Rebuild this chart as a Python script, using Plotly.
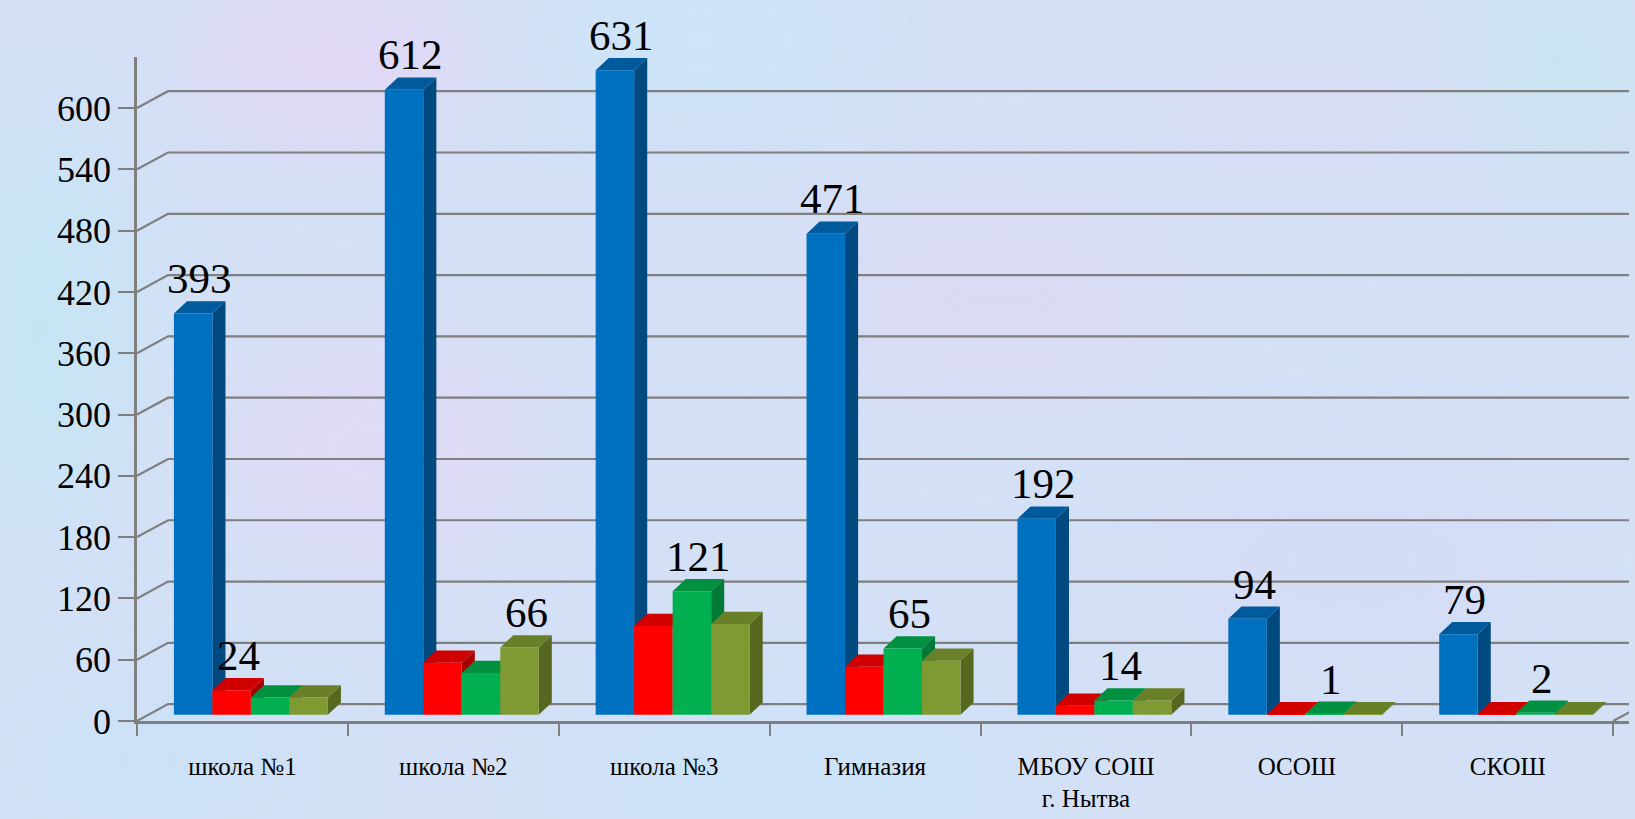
import base64
import plotly.graph_objects as go

categories = ["школа №1", "школа №2", "школа №3", "Гимназия", "МБОУ СОШ<br>г. Нытва", "ОСОШ", "СКОШ"]
blue_vals = [393, 612, 631, 471, 192, 94, 79]
red_vals = [24, 51, 87, 47, 9, 0.5, 0.5]
green_vals = [17, 41, 121, 65, 14, 1, 2]
olive_vals = [17, 66, 89, 53, 14, 0.5, 0.5]

blue_text = [str(v) for v in blue_vals]
red_text = ["24", "", "", "", "", "", ""]
green_text = ["", "", "121", "65", "14", "1", "2"]
olive_text = ["", "66", "", "", "", "", ""]

tick_vals = [0, 60, 120, 180, 240, 300, 360, 420, 480, 540, 600]

# (values, labels, front colour, side colour, top colour)
series = [
    (blue_vals, blue_text, "#0070c0", "#004a80", "#005a9c"),
    (red_vals, red_text, "#ff0000", "#a80000", "#d00000"),
    (green_vals, green_text, "#00b050", "#007a36", "#009040"),
    (olive_vals, olive_text, "#7f9a33", "#56681f", "#6a8028"),
]

BARGAP = 0.27
N = len(series)
group_w = 1 - BARGAP
bar_w = group_w / N
DX, DY = 0.062, 12
GDX, GDY = 0.147, 16.5
BX, BASE = 0.04, 6

# soft mottled backdrop (decorative)
bg_svg = """<svg xmlns='http://www.w3.org/2000/svg' width='1635' height='819' viewBox='0 0 1635 819'>
<defs><filter id='b' x='-50%' y='-50%' width='200%' height='200%'><feGaussianBlur stdDeviation='45'/></filter></defs>
<rect width='1635' height='819' fill='#d3e0f6'/>
<g filter='url(#b)' opacity='0.75'>
<ellipse cx='330' cy='60' rx='140' ry='90' fill='#e6d6f6'/>
<ellipse cx='700' cy='40' rx='150' ry='60' fill='#c9e7fa'/>
<ellipse cx='40' cy='330' rx='90' ry='200' fill='#c3e6f4'/>
<ellipse cx='380' cy='450' rx='160' ry='120' fill='#e2d9f6'/>
<ellipse cx='1000' cy='300' rx='200' ry='120' fill='#dcdaf4'/>
<ellipse cx='1300' cy='120' rx='180' ry='90' fill='#d8dcf4'/>
<ellipse cx='1560' cy='60' rx='90' ry='90' fill='#c6e6ef'/>
<ellipse cx='800' cy='780' rx='220' ry='60' fill='#c8e4fa'/>
<ellipse cx='1350' cy='560' rx='200' ry='110' fill='#d6dcf6'/>
<ellipse cx='150' cy='760' rx='150' ry='70' fill='#c9e2f7'/>
</g></svg>"""
bg_uri = "data:image/svg+xml;base64," + base64.b64encode(bg_svg.encode("utf-8")).decode("ascii")

fig = go.Figure()
shapes = []
annotations = []

n_cat = len(categories)
for v in tick_vals:
    shapes.append(dict(
        type="path", xref="x", yref="y", layer="below",
        path=f"M -0.5 {v} L {-0.5 + GDX} {v + GDY} L {n_cat - 0.5 + GDX} {v + GDY}",
        line=dict(color="#7f7f7f", width=2.2),
    ))
shapes.append(dict(
    type="path", xref="x", yref="y", layer="below",
    path=f"M {n_cat - 0.5} 0 L {n_cat - 0.5 + GDX} {GDY}",
    line=dict(color="#7f7f7f", width=2.2),
))

for si, (vals, txt, col, side, top) in enumerate(series):
    off = -group_w / 2 + bar_w * si + BX
    fig.add_trace(go.Bar(
        x=categories, y=vals, base=BASE, offset=off, width=bar_w,
        marker=dict(color=col, line=dict(width=0)),
        hoverinfo="skip",
    ))
    for ci, v in enumerate(vals):
        x0 = ci + off
        x1 = x0 + bar_w
        b = BASE
        t = BASE + v
        shapes.append(dict(
            type="path", xref="x", yref="y", layer="between",
            path=f"M {x1} {b} L {x1 + DX} {b + DY} L {x1 + DX} {t + DY} L {x1} {t} Z",
            fillcolor=side, line=dict(width=0),
        ))
        shapes.append(dict(
            type="path", xref="x", yref="y", layer="between",
            path=f"M {x0} {t} L {x0 + DX} {t + DY} L {x1 + DX} {t + DY} L {x1} {t} Z",
            fillcolor=top, line=dict(width=0),
        ))
        if txt[ci]:
            annotations.append(dict(
                x=(x0 + x1) / 2 + DX / 2, y=t + DY, xref="x", yref="y",
                text=txt[ci], showarrow=False, yanchor="bottom", xanchor="center",
                yshift=-3,
                font=dict(family="Liberation Serif", size=43, color="#000000"),
            ))

fig.update_layout(
    width=1635, height=819,
    barmode="group", bargap=BARGAP, bargroupgap=0,
    showlegend=False,
    paper_bgcolor="#d3e0f6", plot_bgcolor="rgba(0,0,0,0)",
    margin=dict(l=137, r=6, t=57, b=98),
    font=dict(family="Liberation Serif", color="#000000"),
    shapes=shapes, annotations=annotations,
    images=[dict(source=bg_uri, xref="paper", yref="paper", x=-137 / 1492, y=1 + 57 / 664,
                 sizex=1635 / 1492, sizey=819 / 664, xanchor="left", yanchor="top",
                 sizing="stretch", layer="below")],
)
fig.update_xaxes(
    type="category", tickson="boundaries", ticks="outside", ticklen=12,
    tickcolor="#7f7f7f", tickwidth=2,
    range=[-0.5, n_cat - 0.5 + 0.075],
    showline=True, linecolor="#7f7f7f", linewidth=2.5,
    tickfont=dict(family="Liberation Serif", size=25, color="#000000"),
    ticklabelstandoff=21,
    showgrid=False,
)
fig.update_yaxes(
    range=[0, 650], tickvals=tick_vals, ticks="outside", ticklen=16,
    tickcolor="#7f7f7f", tickwidth=2,
    showline=True, linecolor="#7f7f7f", linewidth=2.5,
    showgrid=False, zeroline=False,
    tickfont=dict(family="Liberation Serif", size=36, color="#000000"),
)

fig.write_html(
    "out.html",
    config={"displayModeBar": False},
    post_script="document.body.style.margin='0';document.body.style.overflow='hidden';",
)
